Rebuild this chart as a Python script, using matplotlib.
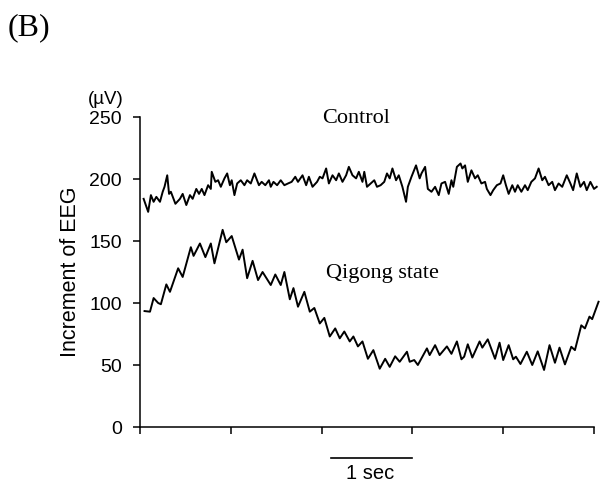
import matplotlib
matplotlib.use("Agg")
import matplotlib.pyplot as plt

# Time in tick units (one tick interval ~ 1.1 s), values in microvolts
control_t = [0.04, 0.09, 0.12, 0.15, 0.18, 0.22, 0.25, 0.27, 0.30, 0.32, 0.34, 0.39, 0.44, 0.47, 0.51,
             0.55, 0.58, 0.62, 0.65, 0.68, 0.71, 0.75, 0.78, 0.79, 0.83, 0.86, 0.89, 0.93, 0.96, 0.99,
             1.01, 1.04, 1.07, 1.11, 1.15, 1.18, 1.22, 1.26, 1.31, 1.34, 1.38, 1.42, 1.44, 1.47, 1.51,
             1.55, 1.59, 1.63, 1.67, 1.71, 1.74, 1.79, 1.83, 1.86, 1.90, 1.95, 1.98, 2.01, 2.05, 2.08,
             2.12, 2.16, 2.19, 2.23, 2.27, 2.30, 2.34, 2.38, 2.41, 2.45, 2.47, 2.50, 2.54, 2.58, 2.61,
             2.65, 2.69, 2.72, 2.75, 2.78, 2.82, 2.85, 2.89, 2.93, 2.95, 2.99, 3.04, 3.08, 3.10, 3.14,
             3.17, 3.21, 3.25, 3.29, 3.32, 3.36, 3.40, 3.43, 3.45, 3.49, 3.53, 3.55, 3.58, 3.61, 3.65,
             3.69, 3.72, 3.76, 3.80, 3.82, 3.86, 3.89, 3.93, 3.97, 4.00, 4.03, 4.06, 4.10, 4.13, 4.16,
             4.20, 4.24, 4.27, 4.31, 4.35, 4.39, 4.43, 4.46, 4.50, 4.54, 4.57, 4.61, 4.65, 4.70, 4.74,
             4.77, 4.81, 4.85, 4.89, 4.92, 4.96, 5.00, 5.03]
control_v = [184, 173.5, 187, 181.6, 185.6, 181.6, 189.7, 193.7, 203, 188, 189.7, 180, 184, 188, 179,
             187, 184, 192, 188, 192, 187, 195, 192, 205.8, 197.7, 199, 193.7, 200.5, 204.5, 195,
             199, 187, 196.4, 199, 195, 199, 196.4, 204.5, 195, 197.7, 195, 199, 193.7, 197.7, 195,
             199, 195, 196.4, 197.7, 201.8, 197.7, 203, 195, 201.8, 193.7, 197.7, 201.8, 200.5, 208.5, 196.4,
             203, 199, 204.5, 197.7, 203, 209.8, 203, 200.5, 205.8, 197.7, 205.8, 193.7, 196.4, 199, 193.7,
             195, 197.7, 204.5, 200.5, 208.5, 199, 203, 193.7, 181.6, 193.7, 201.8, 211, 200.5, 204.5, 209.8,
             192, 189.7, 193.7, 187, 196.4, 197.7, 188, 199, 193.7, 209.8, 212.5, 208.5, 211, 197.7, 207,
             200.5, 203, 196.4, 197.7, 192, 187, 191, 195, 196.4, 203, 195, 188, 195, 189.7, 195,
             189.7, 195, 191, 197.7, 200.5, 208.5, 199, 201.8, 195, 197.7, 191, 196.4, 193.7, 203, 196.4,
             191, 204.5, 193.7, 197.7, 191, 197.7, 192, 193.7]

qigong_t = [0.05, 0.11, 0.15, 0.20, 0.23, 0.29, 0.33, 0.42, 0.47, 0.56, 0.59, 0.66, 0.72, 0.78, 0.82,
            0.91, 0.95, 1.01, 1.09, 1.13, 1.18, 1.24, 1.30, 1.35, 1.44, 1.49, 1.55, 1.59, 1.65, 1.69,
            1.74, 1.81, 1.87, 1.92, 1.98, 2.03, 2.09, 2.15, 2.20, 2.25, 2.31, 2.35, 2.40, 2.45, 2.51,
            2.57, 2.64, 2.70, 2.75, 2.81, 2.86, 2.94, 2.97, 3.02, 3.06, 3.16, 3.19, 3.25, 3.30, 3.38,
            3.43, 3.49, 3.54, 3.57, 3.61, 3.66, 3.74, 3.77, 3.83, 3.91, 3.96, 4.00, 4.06, 4.11, 4.14,
            4.19, 4.26, 4.32, 4.38, 4.45, 4.51, 4.57, 4.62, 4.68, 4.75, 4.79, 4.86, 4.90, 4.95, 4.98, 5.05]
qigong_v = [93.5, 93, 104, 100, 99, 115, 109, 128, 121, 145, 138, 148, 137, 148, 132,
            159, 149, 154, 135, 143, 120, 134, 118.5, 125, 114.5, 123, 114.5, 125, 103, 112,
            97, 109, 93, 96, 83.5, 88, 73, 79.5, 71.5, 77, 69, 73, 65, 69, 55,
            62, 47, 55, 48.5, 57, 52.6, 60.7, 52.6, 54, 50, 63.4, 58, 66, 58, 65,
            59, 69, 54.6, 56.7, 66.7, 56, 69, 64, 70.7, 55, 68, 54, 66, 54.6, 56.7,
            50.8, 60.7, 50, 61, 46, 66, 51.8, 64, 50.5, 64.7, 62, 82, 79.5, 89, 87, 101]

y_ticks = [0, 50, 100, 150, 200, 250]

plt.rcParams['font.family'] = ['Liberation Sans', 'DejaVu Sans']

fig = plt.figure(figsize=(6.0, 4.96), dpi=100)
ax = fig.add_axes([140 / 600, (496 - 427) / 496, 460 / 600, 310 / 496])

ax.plot(control_t, control_v, color='black', lw=1.4, clip_on=False)
ax.plot(qigong_t, qigong_v, color='black', lw=1.4, clip_on=False)

ax.set_xlim(0, 460 / 90.8)
ax.set_ylim(0, 250)
ax.spines['top'].set_visible(False)
ax.spines['right'].set_visible(False)
ax.spines['bottom'].set_bounds(0, 5)
ax.spines['left'].set_linewidth(1.1)
ax.spines['bottom'].set_linewidth(1.1)
ax.set_xticks([0, 1, 2, 3, 4, 5])
ax.set_xticklabels([])
ax.set_yticks(y_ticks)
ax.set_yticklabels([str(v) for v in y_ticks], fontsize=14)
ax.tick_params(axis='both', direction='out', length=5, width=1.1, pad=8)

ax.set_ylabel('Increment of EEG', fontsize=15.5, labelpad=6)

fig.text(106 / 600, 1 - 99 / 496, '(\u00b5V)', fontsize=13.5, ha='center', va='center')
ax.text(2.38, 249, 'Control', fontsize=16, family=['Liberation Serif'], ha='center', va='center')
ax.text(2.67, 124, 'Qigong state', fontsize=16, family=['Liberation Serif'], ha='center', va='center')
fig.text(8 / 600, 1 - 28 / 496, '(B)', fontsize=23, family=['Liberation Serif'], ha='left', va='center')

# 1 sec scale bar
ax.plot([2.10, 3.0], [-25, -25], color='black', lw=1.2, clip_on=False)
ax.text(2.53, -30, '1 sec', fontsize=14.5, ha='center', va='top')

fig.savefig('out.png', dpi=100)
